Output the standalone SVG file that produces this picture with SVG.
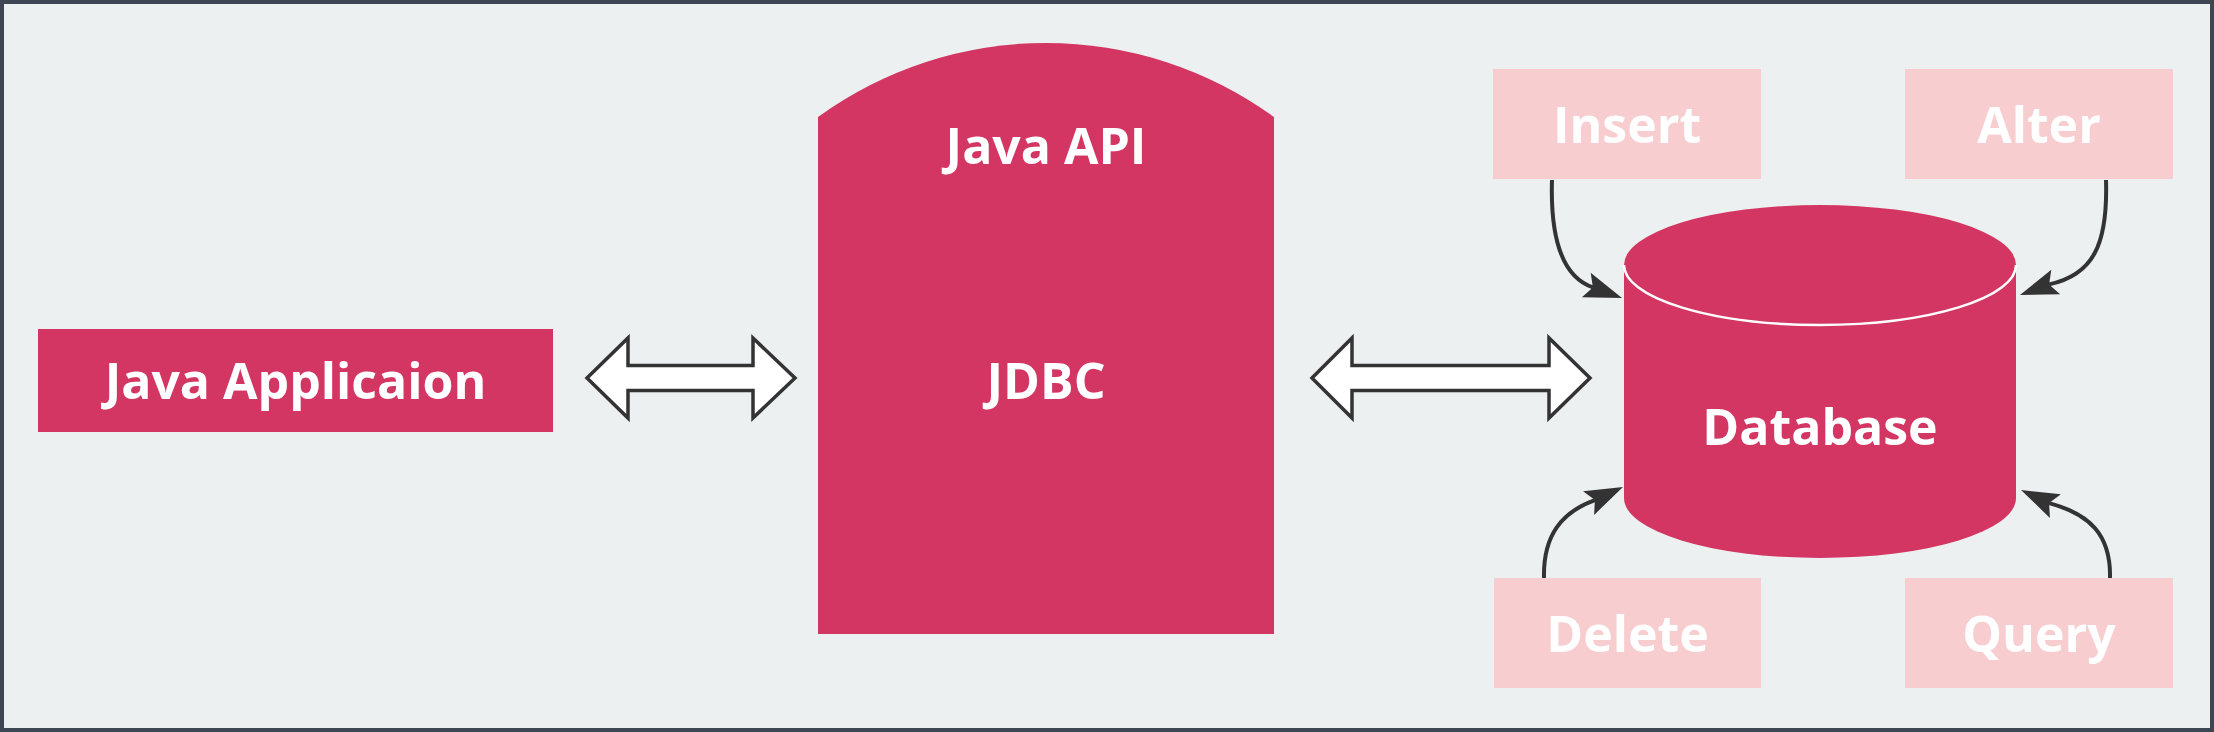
<svg xmlns="http://www.w3.org/2000/svg" width="2214" height="732" viewBox="0 0 2214 732">
<style>
.lbl{font-family:"Open Sans","Noto Sans","Liberation Sans",sans-serif;font-weight:700;font-size:50px;fill:#ffffff;text-anchor:middle}
.main{fill:#D33663}
.op{fill:#F7CDCF}
.dbl{fill:#ffffff;stroke:#333333;stroke-width:3.5;stroke-linejoin:miter}
.cur{fill:none;stroke:#333333;stroke-width:4}
.head{fill:#333333}
</style>
<rect x="2" y="2" width="2210" height="728" fill="#ECF0F1" stroke="#3D4652" stroke-width="4"/>
<g id="java-app">
<rect class="main" x="38" y="329" width="515" height="103"/>
<text class="lbl" x="295.5" y="399">Java Applicaion</text>
</g>
<g id="jdbc">
<path class="main" d="M818,117 A388,388 0 0 1 1274,117 L1274,634 L818,634 Z"/>
<text class="lbl" x="1046" y="164">Java API</text>
<text class="lbl" x="1046" y="399">JDBC</text>
</g>
<g id="database">
<path class="main" d="M1624,265 L1624,498 A196,60 0 0 0 2016,498 L2016,265 A196,60 0 0 0 1624,265 Z"/>
<path d="M1624,265 A196,60 0 0 0 2016,265" fill="none" stroke="#ffffff" stroke-width="2.5"/>
<text class="lbl" x="1820" y="445">Database</text>
</g>
<g id="insert">
<rect class="op" x="1493" y="69" width="268" height="110"/>
<text class="lbl" x="1627" y="143">Insert</text>
</g>
<g id="alter">
<rect class="op" x="1905" y="69" width="268" height="110"/>
<text class="lbl" x="2039" y="143">Alter</text>
</g>
<g id="delete">
<rect class="op" x="1494" y="578" width="267" height="110"/>
<text class="lbl" x="1627.5" y="652">Delete</text>
</g>
<g id="query">
<rect class="op" x="1905" y="578" width="268" height="110"/>
<text class="lbl" x="2039" y="652">Query</text>
</g>
<g id="connectors">
<polygon class="dbl" points="587,378 628,338 628,365.5 753,365.5 753,338 795,378 753,418 753,390.5 628,390.5 628,418"/>
<polygon class="dbl" points="1312,378 1352,338 1352,365.5 1549,365.5 1549,338 1590,378 1549,418 1549,390.5 1352,390.5 1352,418"/>
<path class="cur" d="M1552,180 C1550,245 1565,278 1593,287.4"/>
<polygon class="head" points="1622,298 1581.9,297.2 1592.9,287.4 1590.7,272.8"/>
<path class="cur" d="M2106,180 C2108,245 2093,275 2049,284.4"/>
<polygon class="head" points="2020,295 2060.1,294.2 2049.1,284.4 2051.3,269.8"/>
<path class="cur" d="M1544,578 C1543,535 1562,512 1594.9,500.1"/>
<polygon class="head" points="1623,487 1594.1,514.9 1594.9,500.1 1583.1,491.3"/>
<path class="cur" d="M2110,578 C2111,535 2090,514 2049.1,503.1"/>
<polygon class="head" points="2021,490 2060.9,494.3 2049.1,503.1 2049.9,517.9"/>
</g>
</svg>
